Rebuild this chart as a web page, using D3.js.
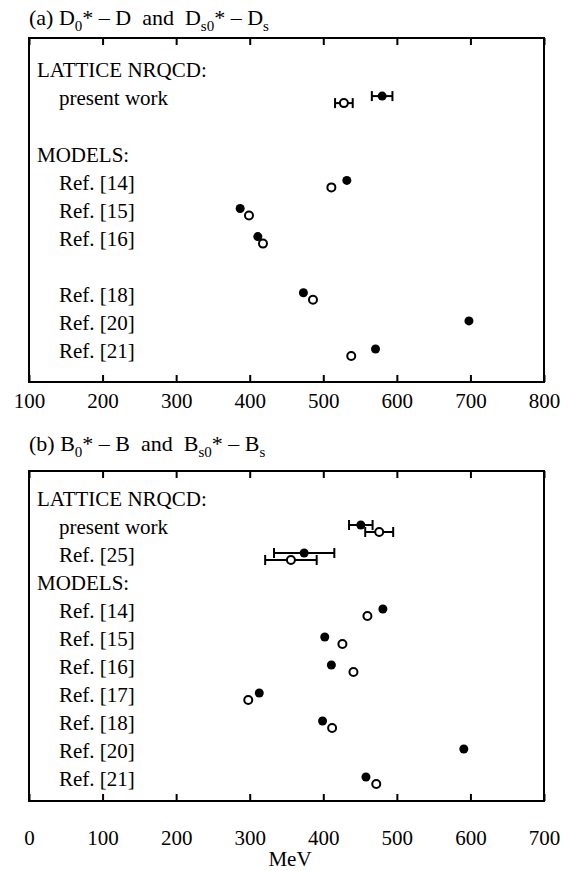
<!DOCTYPE html>
<html>
<head>
<meta charset="utf-8">
<script src="https://cdn.jsdelivr.net/npm/d3@7/dist/d3.min.js"></script>
<style>
body { margin: 0; background: #fff; }
text { font-family: "Liberation Serif", "Times New Roman", serif; fill: #000; }
.ttl { white-space: pre; }
</style>
</head>
<body>
<script>
// ---- panel (a): D0* - D (filled) and Ds0* - Ds (open), MeV
var rowsA = ["LATTICE NRQCD:", "present work", "", "MODELS:", "Ref. [14]", "Ref. [15]", "Ref. [16]", "", "Ref. [18]", "Ref. [20]", "Ref. [21]"];
var refsA = ["present work", "Ref. [14]", "Ref. [15]", "Ref. [16]", "Ref. [18]", "Ref. [20]", "Ref. [21]"];
var d0A = [580, 532, 387, 411, 473, 698, 571];
var ds0A = [528, 511, 399, 418, 486, null, 538];
var errD0A = [14, null, null, null, null, null, null];
var errDs0A = [12, null, null, null, null, null, null];
var ticksA = [100, 200, 300, 400, 500, 600, 700, 800];

// ---- panel (b): B0* - B (filled) and Bs0* - Bs (open), MeV
var rowsB = ["LATTICE NRQCD:", "present work", "Ref. [25]", "MODELS:", "Ref. [14]", "Ref. [15]", "Ref. [16]", "Ref. [17]", "Ref. [18]", "Ref. [20]", "Ref. [21]"];
var refsB = ["present work", "Ref. [25]", "Ref. [14]", "Ref. [15]", "Ref. [16]", "Ref. [17]", "Ref. [18]", "Ref. [20]", "Ref. [21]"];
var b0B = [451, 374, 481, 402, 411, 313, 399, 591, 458];
var bs0B = [476, 356, 460, 426, 441, 298, 412, null, 472];
var errB0B = [16, 41, null, null, null, null, null, null, null];
var errBs0B = [19, 35, null, null, null, null, null, null, null];
var ticksB = [0, 100, 200, 300, 400, 500, 600, 700];

var headers = ["LATTICE NRQCD:", "MODELS:"];

var svg = d3.select("body").append("svg")
  .attr("width", 576).attr("height", 871);

function title(y, parts) {
  // parts: [text, "sub" | "up" | undefined]
  var t = svg.append("text").attr("class", "ttl").attr("x", 29).attr("y", y).style("font-size", "22px");
  parts.forEach(function(p) {
    var ts = t.append("tspan").text(p[0]);
    if (p[1] == "sub") ts.attr("dy", 6).style("font-size", "15px");
    if (p[1] == "up") ts.attr("dy", -6);
  });
}

function panel(cfg) {
  var x = d3.scaleLinear().domain(cfg.domain).range([29, 544]);
  var y = d3.scalePoint().domain(d3.range(cfg.rows.length)).range(cfg.rowRange);
  var g = svg.append("g");

  // axes: ticks pointing inwards from top and bottom
  var bottom = d3.axisBottom(x).tickValues(cfg.ticks).tickSizeInner(-7).tickSizeOuter(0).tickPadding(cfg.pad);
  var gb = g.append("g").attr("transform", "translate(0," + cfg.bottom + ")").call(bottom);
  gb.select(".domain").remove();
  gb.selectAll("line").attr("stroke", "#000").attr("stroke-width", 2);
  gb.selectAll("text").style("font-size", "21px").attr("fill", "#000")
    .style("font-family", "'Liberation Serif', serif");

  var top = d3.axisTop(x).tickValues(cfg.ticks).tickSizeInner(-7).tickSizeOuter(0).tickFormat("");
  var gt = g.append("g").attr("transform", "translate(0," + cfg.top + ")").call(top);
  gt.select(".domain").remove();
  gt.selectAll("line").attr("stroke", "#000").attr("stroke-width", 2);

  g.append("rect")
    .attr("x", x.range()[0]).attr("y", cfg.top)
    .attr("width", x.range()[1] - x.range()[0]).attr("height", cfg.bottom - cfg.top)
    .attr("fill", "none").attr("stroke", "#000").attr("stroke-width", 2);

  // row labels
  g.selectAll(".lab").data(cfg.rows).enter().append("text")
    .attr("x", function(d) { return headers.indexOf(d) >= 0 ? 37 : 59; })
    .attr("y", function(d, i) { return y(i); })
    .attr("dy", "0.35em")
    .style("font-size", "21px")
    .text(function(d) { return d; });

  function rowY(r) { return y(cfg.rows.indexOf(r)); }

  function series(vals, errs, dy, filled) {
    var pts = cfg.refs.map(function(r, i) {
      return { v: vals[i], e: errs[i], y: rowY(r) + dy };
    }).filter(function(d) { return d.v != null; });

    var eb = pts.filter(function(d) { return d.e != null; });
    g.selectAll(null).data(eb).enter().append("line")
      .attr("x1", function(d) { return x(d.v - d.e); })
      .attr("x2", function(d) { return x(d.v + d.e); })
      .attr("y1", function(d) { return d.y; }).attr("y2", function(d) { return d.y; })
      .attr("stroke", "#000").attr("stroke-width", 2);
    [-1, 1].forEach(function(s) {
      g.selectAll(null).data(eb).enter().append("line")
        .attr("x1", function(d) { return x(d.v + s * d.e); })
        .attr("x2", function(d) { return x(d.v + s * d.e); })
        .attr("y1", function(d) { return d.y - 5; }).attr("y2", function(d) { return d.y + 5; })
        .attr("stroke", "#000").attr("stroke-width", 2);
    });

    g.selectAll(null).data(pts).enter().append("circle")
      .attr("cx", function(d) { return x(d.v); })
      .attr("cy", function(d) { return d.y; })
      .attr("r", filled ? 4.5 : 4)
      .attr("fill", filled ? "#000" : "#fff")
      .attr("stroke", "#000").attr("stroke-width", filled ? 0 : 2);
  }

  series(cfg.open, cfg.openErr, 5, false);
  series(cfg.filled, cfg.filledErr, -2, true);
  return x;
}

title(25, [["(a) D"], ["0", "sub"], ["*", "up"], [" \u2013 D  and  D"], ["s0", "sub"], ["*", "up"], [" \u2013 D"], ["s", "sub"]]);
panel({ domain: [100, 800], ticks: ticksA, rows: rowsA, refs: refsA, rowRange: [70, 351],
  top: 38, bottom: 382, pad: 11,
  filled: d0A, filledErr: errD0A, open: ds0A, openErr: errDs0A });

title(451, [["(b) B"], ["0", "sub"], ["*", "up"], [" \u2013 B  and  B"], ["s0", "sub"], ["*", "up"], [" \u2013 B"], ["s", "sub"]]);
panel({ domain: [0, 700], ticks: ticksB, rows: rowsB, refs: refsB, rowRange: [499, 779],
  top: 471, bottom: 801, pad: 29,
  filled: b0B, filledErr: errB0B, open: bs0B, openErr: errBs0B });

svg.append("text").attr("x", 290).attr("y", 866)
  .attr("text-anchor", "middle").style("font-size", "21px").text("MeV");
</script>
</body>
</html>
